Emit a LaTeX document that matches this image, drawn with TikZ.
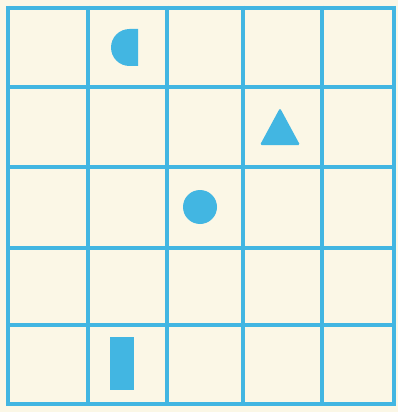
\documentclass[tikz,border=0pt]{standalone}
\definecolor{gridblue}{RGB}{66,182,226}
\definecolor{paper}{RGB}{251,247,230}
\begin{document}
\begin{tikzpicture}[x=1pt,y=-1pt,
  gridline/.style={draw=gridblue,line width=4.5pt},
  shapefill/.style={fill=gridblue,draw=none}]
\fill[paper] (0,0) rectangle (398,412);
\useasboundingbox (0,0) rectangle (398,412);
% vertical lines
\foreach \x in {8,88,167,243,322,394}
  \draw[gridline] (\x,6) -- (\x,406);
% horizontal lines
\foreach \y in {8,87,167,248,325,404}
  \draw[gridline] (6,\y) -- (396,\y);
% half disc
\fill[shapefill] (138,29) -- (129.5,29) arc[start angle=270,end angle=90,radius=18.5] -- (138,66) -- cycle;
% triangle
\fill[shapefill,rounded corners=1.5pt] (280,108) -- (300,145) -- (260,145) -- cycle;
% circle
\fill[shapefill] (200,207) circle[radius=17];
% bar
\fill[shapefill] (110,337) rectangle (134,390);
\end{tikzpicture}
\end{document}
